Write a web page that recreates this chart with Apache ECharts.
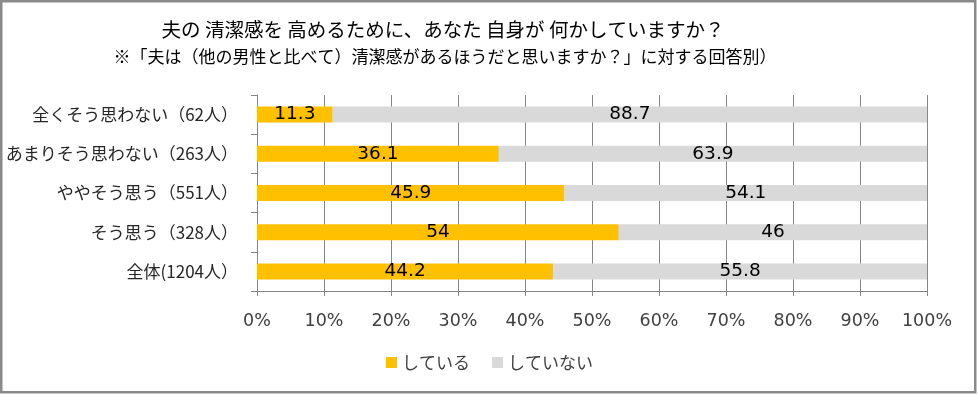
<!DOCTYPE html>
<html><head><meta charset="utf-8">
<script src="https://cdn.jsdelivr.net/npm/echarts@6/dist/echarts.min.js"></script>
<style>html,body{margin:0;padding:0;background:#fff}#c{width:979px;height:394px}</style>
</head><body><div id="c"></div>
<script>
const categories = ['全くそう思わない（62人）','あまりそう思わない（263人）','ややそう思う（551人）','そう思う（328人）','全体(1204人）'];
const doing = [11.3, 36.1, 45.9, 54, 44.2];
const notDoing = [88.7, 63.9, 54.1, 46, 55.8];
const seriesNames = ['している','していない'];
const titleLines = ['夫の 清潔感を 高めるために、あなた 自身が 何かしていますか？','※「夫は（他の男性と比べて）清潔感があるほうだと思いますか？」に対する回答別）'];

const FONT = '"Noto Sans CJK JP", "Noto Sans", sans-serif';
const NUMFONT = '"DejaVu Sans", "Noto Sans CJK JP", sans-serif';
const chart = echarts.init(document.getElementById('c'), null, {renderer:'canvas'});
const lbl = {show:true, position:'inside', color:'#000', fontSize:18.5, fontFamily:NUMFONT};
chart.setOption({
  animation:false,
  textStyle:{fontFamily:FONT},
  graphic:[
    {type:'rect', shape:{x:1.25,y:1.25,width:974,height:391}, style:{fill:'none', stroke:'#8a8a8a', lineWidth:2.5}, silent:true},
    {type:'text', x:443, y:30, style:{text:titleLines[0], fontSize:19.5, fontFamily:FONT, fill:'#000', align:'center', verticalAlign:'middle'}},
    {type:'text', x:445, y:57, style:{text:titleLines[1], fontSize:17, fontFamily:FONT, fill:'#000', align:'center', verticalAlign:'middle'}}
  ],
  legend:{
    data:seriesNames, left:'center', top:349, itemWidth:11, itemHeight:11, itemGap:22,
    icon:'rect', textStyle:{fontSize:17, color:'#404040', fontFamily:FONT}
  },
  grid:{left:257, top:95, width:670, height:196, containLabel:false, outerBoundsMode:'none'},
  xAxis:{
    type:'value', min:0, max:100, interval:10,
    axisLabel:{formatter:v=>v+'%', fontSize:17.5, color:'#404040', margin:22, fontFamily:NUMFONT},
    axisLine:{show:true, lineStyle:{color:'#868686'}},
    axisTick:{show:true, length:5, lineStyle:{color:'#868686'}},
    splitLine:{show:true, lineStyle:{color:'#868686', width:1}}
  },
  yAxis:{
    type:'category', data:categories, inverse:true,
    axisLabel:{fontSize:17, color:'#262626', margin:19, fontFamily:FONT},
    axisLine:{show:true, lineStyle:{color:'#868686'}},
    axisTick:{show:true, length:6, lineStyle:{color:'#868686'}}
  },
  series:[
    {name:seriesNames[0], type:'bar', stack:'a', data:doing, barWidth:16, itemStyle:{color:'#FFC000'}, label:lbl},
    {name:seriesNames[1], type:'bar', stack:'a', data:notDoing, barWidth:16, itemStyle:{color:'#D9D9D9'}, label:lbl}
  ]
});
</script></body></html>
